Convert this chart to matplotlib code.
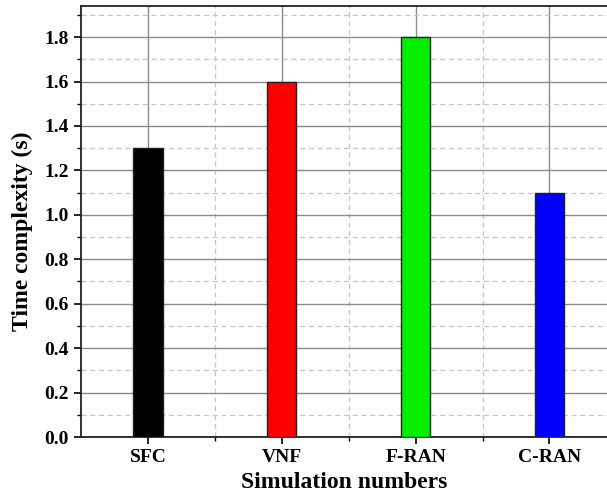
import matplotlib.pyplot as plt
from matplotlib.ticker import MultipleLocator

# Werte aus dem Diagramm
methods = ['SFC', 'VNF', 'F-RAN', 'C-RAN']
time_values = [1.3, 1.6, 1.8, 1.1]
bar_colors = ['#000000', '#ff0000', '#00ee00', '#0000ff']

plt.rcParams['font.family'] = ['Liberation Serif', 'DejaVu Serif']
plt.rcParams['font.weight'] = 'bold'

fig = plt.figure(figsize=(6.07, 5.0), dpi=100)
ax = fig.add_axes([0.1334, 0.126, 0.8666, 0.862])

x = range(len(methods))
ax.bar(x, time_values, width=0.22, color=bar_colors, edgecolor='#222222',
       linewidth=1.0, zorder=3)

ax.set_xlim(-0.5, 3.43)
ax.set_ylim(0, 1.94)
ax.set_xticks(list(x))
ax.set_xticklabels(methods)
ax.xaxis.set_minor_locator(plt.FixedLocator([0.5, 1.5, 2.5]))
ax.yaxis.set_major_locator(MultipleLocator(0.2))
ax.yaxis.set_minor_locator(MultipleLocator(0.1))
ax.yaxis.set_major_formatter(plt.FormatStrFormatter('%.1f'))

ax.grid(which='major', color='#8a8a8a', linestyle='-', linewidth=1.0, zorder=0)
ax.grid(which='minor', color='#c4c4c4', linestyle=(0, (4, 3)), linewidth=0.9, zorder=0)

ax.tick_params(which='major', direction='out', length=5, width=1.2, labelsize=14, pad=4)
ax.tick_params(which='minor', direction='out', length=3, width=1.0)
ax.spines['right'].set_visible(False)
for s in ['left', 'bottom', 'top']:
    ax.spines[s].set_linewidth(1.3)
    ax.spines[s].set_color('#222222')

ax.set_xlabel('Simulation numbers', fontsize=17, fontweight='bold', labelpad=4)
ax.set_ylabel('Time complexity (s)', fontsize=17, fontweight='bold')
ax.yaxis.set_label_coords(-0.092, 0.478)

fig.savefig('out.png', dpi=100)
